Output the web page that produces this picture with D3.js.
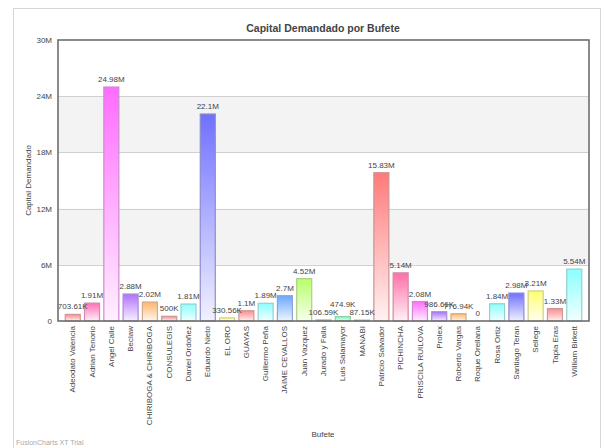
<!DOCTYPE html>
<html>
<head>
<meta charset="utf-8">
<script src="https://cdn.jsdelivr.net/npm/d3@7"></script>
<style>
  html, body { margin: 0; padding: 0; background: #fff; }
  svg { display: block; }
  text { font-family: "Liberation Sans", Arial, sans-serif; }
</style>
</head>
<body>
<svg id="chart" width="605" height="448"></svg>
<script>
// Bufetes (law firms) and the capital each one claims
const categories = [
  "Adeodato Valencia", "Adrian Tenorio", "Angel Calle", "Beclaw",
  "CHIRIBOGA & CHIRIBOGA", "CONSULEGIS", "Daniel Ordoñez", "Eduardo Nieto",
  "EL ORO", "GUAYAS", "Guillermo Peña", "JAIME CEVALLOS", "Juan Vazquez",
  "Jurado y Falla", "Luis Salamayor", "MANABI", "Patricio Salvador",
  "PICHINCHA", "PRISCILA RUILOVA", "Prolex", "Roberto Vargas",
  "Roque Orellana", "Rosa Ortiz", "Santiago Teran", "Sellege",
  "Tapia Eras", "William Birkett"
];
const values = [
  703610, 1910000, 24980000, 2880000,
  2020000, 500000, 1810000, 22100000,
  330560, 1100000, 1890000, 2700000, 4520000,
  106590, 474900, 87150, 15830000,
  5140000, 2080000, 986660, 776940,
  0, 1840000, 2980000, 3210000,
  1330000, 5540000
];
const barColors = [
  "#FF8A8A", "#FF6FB7", "#FF6CFF", "#B070FF",
  "#FFB56A", "#FF8A8A", "#8AFFFF", "#7070FF",
  "#FFFF70", "#FF8A8A", "#8AFFFF", "#6AA8FF", "#B8FF6A",
  "#8FBF8F", "#6AFFB5", "#86C4C4", "#FF7A7A",
  "#FF6FA8", "#FF6CFF", "#A870FF", "#FFB56A",
  "#8AFFFF", "#8AFFFF", "#7070FF", "#FFFF70",
  "#FF8A8A", "#8AFFFF"
];
const yTickValues = [0, 6e6, 12e6, 18e6, 24e6, 30e6];
const yTickLabels = ["0", "6M", "12M", "18M", "24M", "30M"];

const title = "Capital Demandado por Bufete";
const yTitle = "Capital Demandado";
const xTitle = "Bufete";

function fmt(v) {
  const strip = s => s.replace(/\.?0+$/, "");
  if (v >= 1e6) return strip((v / 1e6).toFixed(2)) + "M";
  if (v >= 1e3) return strip((v / 1e3).toFixed(2)) + "K";
  return String(v);
}

const svg = d3.select("#chart");
const plot = { left: 58, right: 589, top: 40, bottom: 321 };

// outer chart frame
svg.append("rect")
  .attr("x", 13.5).attr("y", 8.5).attr("width", 587).attr("height", 445)
  .attr("fill", "#fff").attr("stroke", "#d6d6d6");

const x = d3.scaleBand()
  .domain(categories)
  .range([plot.left, plot.right])
  .paddingInner(0.17)
  .paddingOuter(0.35);

const y = d3.scaleLinear()
  .domain([0, 30e6])
  .range([plot.bottom, plot.top]);

// alternating horizontal bands
const bands = svg.append("g");
for (let i = 0; i < yTickValues.length - 1; i++) {
  if (i % 2 === 1) {
    bands.append("rect")
      .attr("x", plot.left).attr("width", plot.right - plot.left)
      .attr("y", y(yTickValues[i + 1]))
      .attr("height", y(yTickValues[i]) - y(yTickValues[i + 1]))
      .attr("fill", "#f3f3f3");
  }
}

// horizontal grid lines
svg.append("g")
  .selectAll("line")
  .data(yTickValues.slice(1, -1))
  .join("line")
  .attr("x1", plot.left).attr("x2", plot.right)
  .attr("y1", d => Math.round(y(d)) + 0.5).attr("y2", d => Math.round(y(d)) + 0.5)
  .attr("stroke", "#d0d0d0");

// y axis labels
const yAxis = d3.axisLeft(y)
  .tickValues(yTickValues)
  .tickSize(0)
  .tickPadding(6)
  .tickFormat((d, i) => yTickLabels[i]);
const yg = svg.append("g").attr("transform", `translate(${plot.left},0)`).call(yAxis);
yg.select(".domain").remove();
yg.selectAll("text").attr("font-size", 8).attr("fill", "#444")
  .attr("font-family", "Liberation Sans, Arial, sans-serif");

// bar gradients
const defs = svg.append("defs");
barColors.forEach((c, i) => {
  const g = defs.append("linearGradient")
    .attr("id", "grad" + i)
    .attr("x1", 0).attr("y1", 0).attr("x2", 0).attr("y2", 1);
  g.append("stop").attr("offset", "0%").attr("stop-color", c);
  g.append("stop").attr("offset", "100%").attr("stop-color", d3.interpolateRgb(c, "#fff")(0.9));
});

const data = categories.map((c, i) => ({ name: c, value: values[i], i }));

// bars
svg.append("g")
  .selectAll("rect")
  .data(data.filter(d => d.value > 0))
  .join("rect")
  .attr("x", d => x(d.name) + 0.5)
  .attr("width", x.bandwidth() - 1)
  .attr("y", d => y(d.value))
  .attr("height", d => y(0) - y(d.value))
  .attr("fill", d => `url(#grad${d.i})`)
  .attr("stroke", d => d3.interpolateRgb(barColors[d.i], "#a5a5a5")(0.55))
  .attr("stroke-width", 1.2);

// value labels
svg.append("g")
  .selectAll("text")
  .data(data)
  .join("text")
  .attr("x", d => x(d.name) + x.bandwidth() / 2)
  .attr("y", d => y(d.value) - 5 - (d.name === "Luis Salamayor" ? 5 : 0))
  .attr("text-anchor", "middle")
  .attr("font-size", 8)
  .attr("fill", "#444")
  .text(d => fmt(d.value));

// plot frame
svg.append("rect")
  .attr("x", plot.left).attr("y", plot.top)
  .attr("width", plot.right - plot.left).attr("height", plot.bottom - plot.top)
  .attr("fill", "none").attr("stroke", "#6e6e6e").attr("stroke-width", 1.6);

// category labels
const xAxis = d3.axisBottom(x).tickSize(0).tickPadding(0);
const xg = svg.append("g").attr("transform", `translate(0,${plot.bottom})`).call(xAxis);
xg.select(".domain").remove();
xg.selectAll("text")
  .attr("font-size", 8)
  .attr("fill", "#444")
  .attr("font-family", "Liberation Sans, Arial, sans-serif")
  .attr("transform", "rotate(-90)")
  .attr("text-anchor", "end")
  .attr("x", -5)
  .attr("y", 0)
  .attr("dy", "0.32em");

// titles
svg.append("text")
  .attr("x", 323).attr("y", 32)
  .attr("text-anchor", "middle")
  .attr("font-size", 10.5).attr("font-weight", "bold")
  .attr("fill", "#444")
  .text(title);

svg.append("text")
  .attr("transform", `translate(31,${(plot.top + plot.bottom) / 2}) rotate(-90)`)
  .attr("text-anchor", "middle")
  .attr("font-size", 8).attr("fill", "#444")
  .text(yTitle);

svg.append("text")
  .attr("x", 323).attr("y", 437)
  .attr("text-anchor", "middle")
  .attr("font-size", 8).attr("fill", "#444")
  .text(xTitle);

svg.append("text")
  .attr("x", 16).attr("y", 445)
  .attr("font-size", 7).attr("fill", "#aaa")
  .text("FusionCharts XT Trial");
</script>
</body>
</html>
